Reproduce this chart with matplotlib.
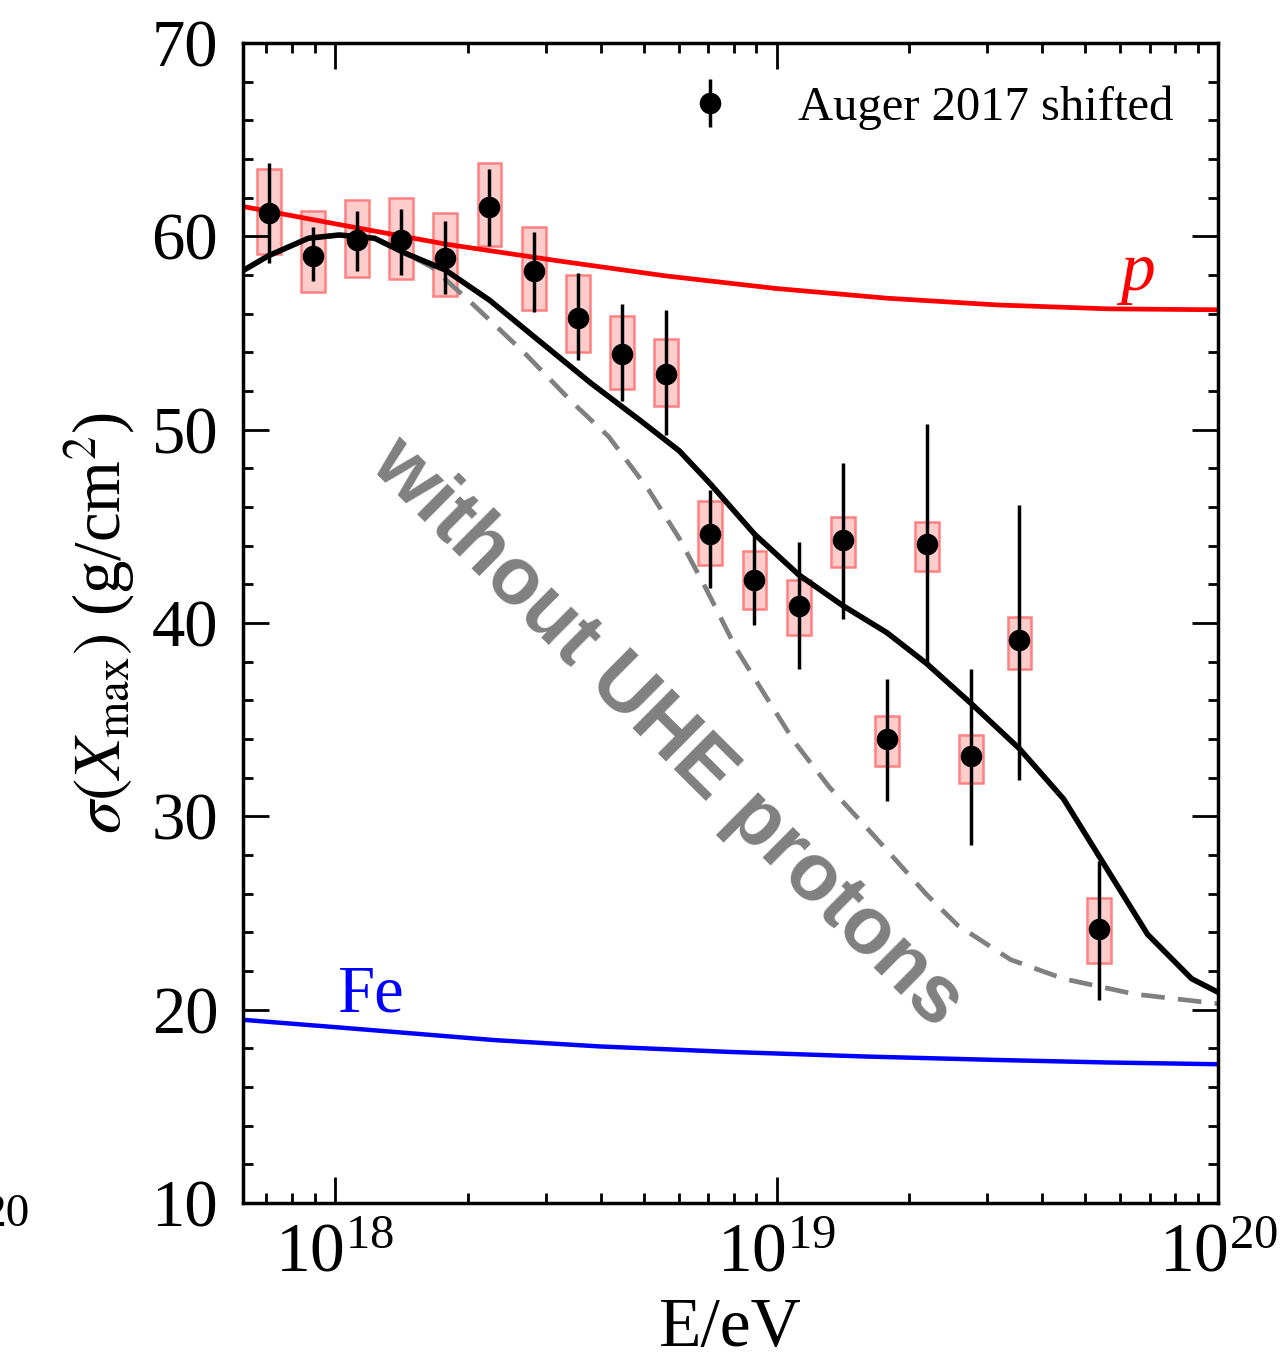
import matplotlib
matplotlib.use("Agg")
import matplotlib.pyplot as plt
from matplotlib.ticker import MultipleLocator, LogLocator, NullFormatter
import numpy as np

plt.rcParams['font.family'] = ['Liberation Serif', 'DejaVu Serif']
plt.rcParams['mathtext.fontset'] = 'stix'

# Auger 2017 shifted: log10(E/eV), sigma(Xmax), stat error bar ends, sys box ends
logE = [17.85, 17.95, 18.05, 18.15, 18.25, 18.35, 18.45, 18.55, 18.65, 18.75,
        18.85, 18.95, 19.05, 19.15, 19.25, 19.34, 19.44, 19.55, 19.73]
sig = [61.2, 59.0, 59.8, 59.8, 58.9, 61.5, 58.2, 55.8, 53.9, 52.9,
       44.6, 42.2, 40.9, 44.3, 34.0, 44.1, 33.1, 39.1, 24.2]
stat_hi = [63.8, 60.5, 61.3, 61.4, 60.8, 63.5, 60.2, 58.1, 56.5, 56.2,
           46.9, 44.6, 44.2, 48.3, 37.1, 50.3, 37.6, 46.1, 27.7]
stat_lo = [58.6, 57.7, 58.2, 58.0, 57.0, 59.5, 56.1, 53.6, 51.5, 49.7,
           41.8, 39.9, 37.6, 40.2, 30.8, 38.0, 28.5, 31.9, 20.5]
sys_hi = [63.5, 61.3, 61.9, 62.0, 61.2, 63.8, 60.5, 58.0, 55.9, 54.7,
          46.3, 43.7, 42.2, 45.5, 35.2, 45.2, 34.2, 40.3, 25.8]
sys_lo = [59.1, 57.1, 57.9, 57.8, 56.9, 59.5, 56.2, 54.0, 52.1, 51.2,
          43.0, 40.7, 39.4, 42.9, 32.6, 42.7, 31.7, 37.6, 22.4]

# model curves
p_logE = [17.79, 18.0, 18.25, 18.5, 18.75, 19.0, 19.25, 19.5, 19.75, 20.0]
p_sig = [61.55, 60.65, 59.6, 58.75, 57.95, 57.3, 56.8, 56.45, 56.25, 56.2]

fe_logE = [17.79, 18.0, 18.36, 18.6, 18.89, 19.2, 19.5, 19.75, 20.0]
fe_sig = [19.48, 19.1, 18.43, 18.1, 17.82, 17.58, 17.4, 17.27, 17.18]

tot_logE = [17.79, 17.85, 17.94, 18.01, 18.09, 18.16, 18.25, 18.35, 18.46, 18.58,
            18.69, 18.78, 18.85, 18.95, 19.05, 19.15, 19.25, 19.34, 19.44, 19.55,
            19.65, 19.73, 19.84, 19.94, 20.0]
tot_sig = [58.2, 59.0, 59.9, 60.07, 59.9, 59.12, 58.26, 56.7, 54.64, 52.4,
           50.5, 48.9, 47.2, 44.6, 42.5, 40.9, 39.5, 37.9, 35.85, 33.5,
           30.9, 27.95, 23.9, 21.6, 20.9]

nop_logE = [17.79, 17.85, 17.94, 18.01, 18.09, 18.16, 18.22, 18.31, 18.43, 18.54,
            18.62, 18.71, 18.78, 18.84, 18.91, 18.98, 19.04, 19.12, 19.2, 19.27,
            19.34, 19.41, 19.53, 19.65, 19.81, 20.0]
nop_sig = [58.2, 59.0, 59.9, 60.07, 59.9, 59.12, 58.4, 56.54, 53.95, 51.36,
           49.64, 46.9, 44.37, 41.79, 38.62, 36.05, 33.87, 31.5, 29.52, 27.74,
           25.95, 24.37, 22.59, 21.6, 20.81, 20.31]

E = 10 ** np.array(logE)
sig = np.array(sig)
hw = 0.027  # half width of sys boxes in decades

fig = plt.figure(figsize=(12.8, 13.6), dpi=100)
ax = fig.add_axes([0.19, 0.1154, 0.7617, 0.853])

ax.bar(E * 10 ** -hw, np.array(sys_hi) - np.array(sys_lo),
       width=E * (10 ** hw - 10 ** -hw), bottom=sys_lo, align='edge',
       facecolor='#ffcccc', edgecolor='#ff8080', linewidth=1.8, zorder=1)

ax.plot(10 ** np.array(p_logE), p_sig, color='red', lw=3.4, zorder=2)
ax.plot(10 ** np.array(fe_logE), fe_sig, color='blue', lw=3.2, zorder=2)
ax.plot(10 ** np.array(nop_logE), nop_sig, color='#808080', lw=3.4,
        dashes=(5, 2.8), zorder=2)
ax.plot(10 ** np.array(tot_logE), tot_sig, color='black', lw=4, zorder=2)

yerr = [sig - np.array(stat_lo), np.array(stat_hi) - sig]
ax.errorbar(E, sig, yerr=yerr, fmt='o', color='black', ms=14.5, elinewidth=2.5,
            capsize=0, zorder=3, label='Auger 2017 shifted')

ax.set_xscale('log')
ax.set_xlim(6.2e17, 1e20)
ax.set_ylim(10, 70)
ax.yaxis.set_major_locator(MultipleLocator(10))
ax.yaxis.set_minor_locator(MultipleLocator(2))
ax.xaxis.set_major_locator(LogLocator(base=10, numticks=10))
ax.xaxis.set_minor_locator(LogLocator(base=10, subs=np.arange(2, 10), numticks=20))
ax.xaxis.set_minor_formatter(NullFormatter())

ax.tick_params(which='both', direction='in', top=True, right=True, width=2)
ax.tick_params(which='major', length=19, labelsize=48)
ax.tick_params(which='minor', length=7)
ax.tick_params(axis='y', pad=18)
ax.tick_params(axis='x', pad=14, labelsize=50)
for s in ax.spines.values():
    s.set_linewidth(2.5)

ax.set_xlabel('E/eV', fontsize=50)
ax.xaxis.set_label_coords(0.5, -0.081)
ax.set_ylabel(r'$\sigma(X_{\rm max})$ (g/cm$^2$)', fontsize=48)
ax.yaxis.set_label_coords(-0.109, 0.5)

ax.text(0.917, 0.787, 'p', transform=ax.transAxes, color='red', fontsize=50,
        style='italic', ha='center', va='baseline')
ax.text(0.1303, 0.1655, 'Fe', transform=ax.transAxes, color='blue', fontsize=48,
        ha='center', va='baseline')

fig.text(667 / 1280, 1 - 733 / 1360, 'without UHE protons', color='#808080',
         fontsize=58, fontweight='bold', family='Liberation Sans',
         rotation=-44.8, rotation_mode='anchor', ha='center', va='center')

# leftover label of the neighbouring panel
fig.text(30 / 1280, 1 - 1215 / 1360, '20', fontsize=34, ha='right', va='center')

leg = ax.legend(loc='center right', bbox_to_anchor=(0.954, 0.944), frameon=False,
                fontsize=35, handlelength=1.0, handletextpad=1.3,
                borderaxespad=0, borderpad=0)

fig.savefig('out.png', dpi=100)
